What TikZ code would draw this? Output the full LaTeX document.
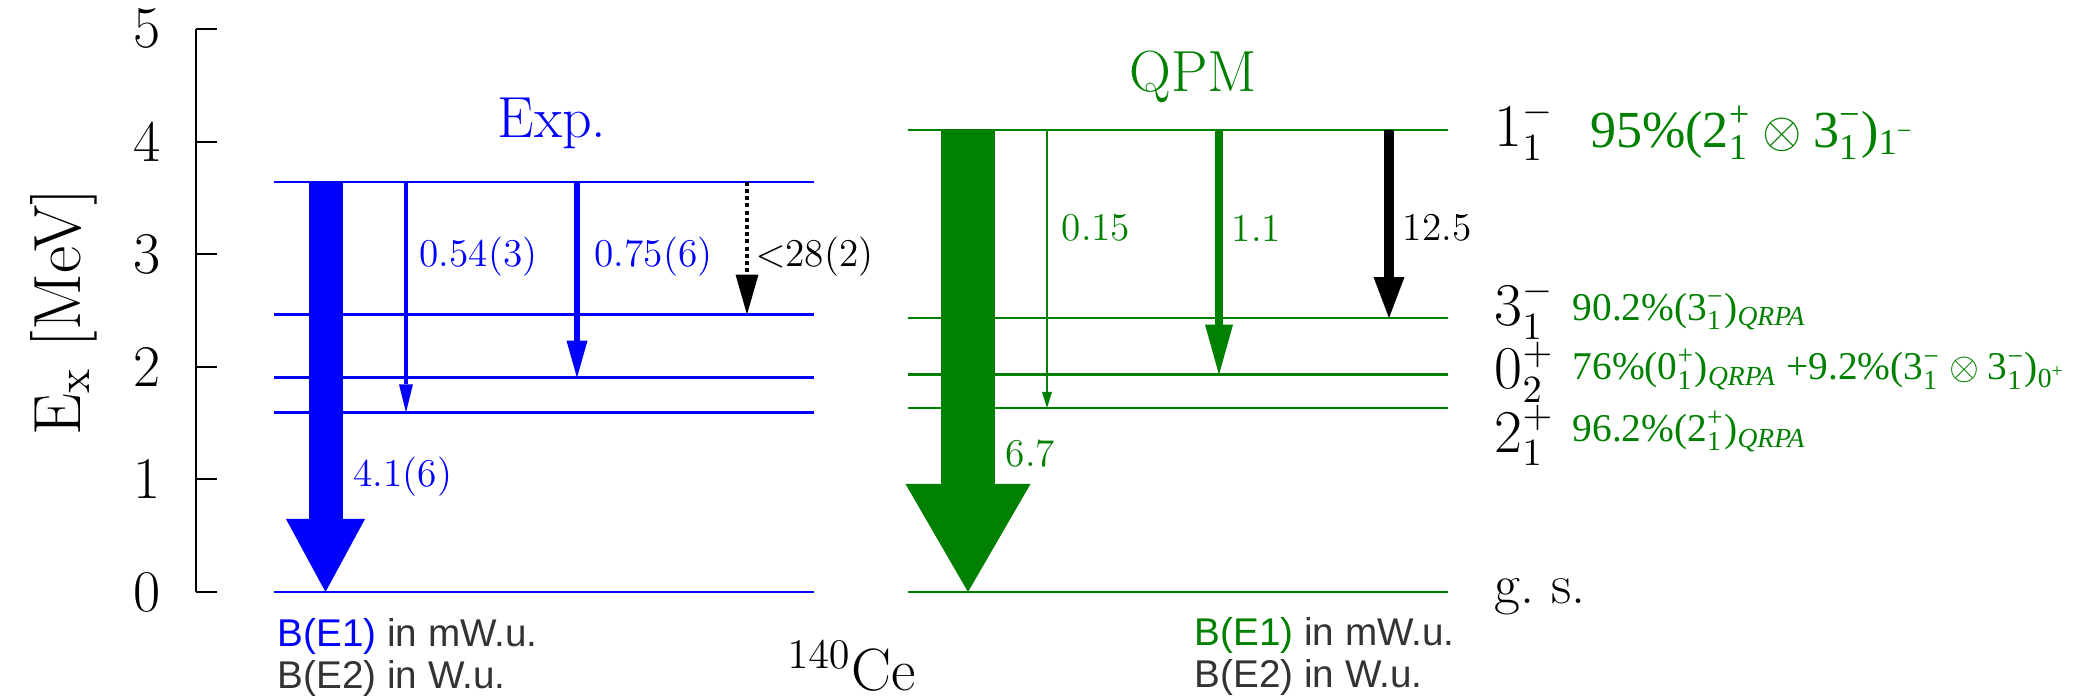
\documentclass[tikz,border=0pt]{standalone}
\usepackage{amsmath}
\usepackage{fontspec}
\usepackage{tikz}
\usetikzlibrary{arrows.meta}
\newfontfamily\qpmfont{Liberation Serif}
\newfontfamily\notefont{Liberation Sans}
\definecolor{expBlue}{HTML}{0000FF}
\definecolor{qpmGreen}{HTML}{008000}
\definecolor{noteGray}{HTML}{333333}

\begin{document}
\begin{tikzpicture}[x=1cm, y=1.126cm,
    axisline/.style={line width=0.6pt, black},
    explvl/.style={line width=0.7pt, expBlue},
    qpmlvl/.style={line width=0.7pt, qpmGreen},
    trans/.style n args={3}{line width=#1, -{Triangle[length=#2, width=#3, line width=0pt]}},
    val/.style={font=\fontsize{11.2}{13}\selectfont, inner sep=0pt, anchor=west},
    ttl/.style={font=\fontsize{16.5}{19}\selectfont, inner sep=0pt, anchor=base west},
    ticklbl/.style={font=\fontsize{16.8}{19}\selectfont, inner sep=0pt, anchor=east},
    spin/.style={font=\fontsize{16}{19}\selectfont, inner sep=0pt, anchor=base west},
    config/.style={font=\qpmfont\fontsize{11.2}{13}\selectfont, text=qpmGreen, inner sep=0pt, anchor=base west},
    note/.style={font=\notefont\fontsize{11}{13}\selectfont, text=noteGray, inner sep=0pt, anchor=base west}
  ]
  \useasboundingbox (0,-0.9503) rectangle (20.75,5.2575);

  % energy axis
  \draw[axisline] (1.96,0) -- (1.96,5);
  \foreach \e in {0,...,5} {
    \draw[axisline] (1.96,\e) -- (2.167,\e);
    \node[ticklbl] (tick\e) at (1.61,\e) {\e};
  }
  \node[rotate=90, font=\fontsize{19}{22}\selectfont, inner sep=0pt] (ylabel) at (0.64,2.487) {E$_\mathrm{x}$ [MeV]};

  % levels
  \foreach \e in {0,1.596,1.903,2.464,3.643}
    \draw[explvl] (2.74,\e) -- (8.14,\e);
  \foreach \e in {0,1.634,1.930,2.433,4.103}
    \draw[qpmlvl] (9.08,\e) -- (14.48,\e);

  \node[ttl, text=expBlue] (exptitle) at (4.97,4.032) {Exp.};
  \node[ttl, text=qpmGreen] (qpmtitle) at (11.29,4.446) {QPM};

  % transition end points
  \coordinate (expA) at (3.255,3.643); \coordinate (expAg) at (3.255,0);
  \coordinate (expB) at (4.06,3.643);  \coordinate (expBg) at (4.06,1.596);
  \coordinate (expC) at (5.77,3.643);  \coordinate (expCg) at (5.77,1.903);
  \coordinate (expD) at (7.47,3.643);  \coordinate (expDg) at (7.47,2.464);
  \coordinate (qpmA) at (9.68,4.103);  \coordinate (qpmAg) at (9.68,0);
  \coordinate (qpmB) at (10.47,4.103); \coordinate (qpmBg) at (10.47,1.634);
  \coordinate (qpmC) at (12.19,4.103); \coordinate (qpmCg) at (12.19,1.930);
  \coordinate (qpmD) at (13.89,4.103); \coordinate (qpmDg) at (13.89,2.433);

  % transitions
  \draw[trans={0.34cm}{0.73cm}{0.79cm}, expBlue] (expA) -- (expAg);
  \draw[trans={0.9pt}{0.28cm}{0.14cm}, expBlue] (expB) -- (expBg);
  \draw[trans={1.6pt}{0.37cm}{0.21cm}, expBlue] (expC) -- (expCg);
  \draw[trans={1.3pt}{0.40cm}{0.23cm}, black, dash pattern=on 1.15pt off 0.9pt] (expD) -- (expDg);
  \draw[trans={0.54cm}{1.08cm}{1.25cm}, qpmGreen] (qpmA) -- (qpmAg);
  \draw[trans={0.35pt}{0.16cm}{0.10cm}, qpmGreen] (qpmB) -- (qpmBg);
  \draw[trans={2.3pt}{0.50cm}{0.28cm}, qpmGreen] (qpmC) -- (qpmCg);
  \draw[trans={2.7pt}{0.41cm}{0.31cm}, black] (qpmD) -- (qpmDg);

  \node[val, text=expBlue] (bA) at (3.53,1.021) {4.1(6)};
  \node[val, text=expBlue] (bB) at (4.19,2.978) {0.54(3)};
  \node[val, text=expBlue] (bC) at (5.94,2.978) {0.75(6)};
  \node[val] (bD) at (7.55,2.975) {$<$28(2)};
  \node[val, text=qpmGreen] (qA) at (10.05,1.226) {6.7};
  \node[val, text=qpmGreen] (qB) at (10.61,3.233) {0.15};
  \node[val, text=qpmGreen] (qC) at (12.31,3.233) {1.1};
  \node[val] (qD) at (14.02,3.233) {12.5};

  % spins and structure
  \node[spin] (s1) at (14.94,3.956) {$1_1^-$};
  \node[spin] (s3) at (14.94,2.366) {$3_1^-$};
  \node[spin] (s0) at (14.94,1.803) {$0_2^+$};
  \node[spin] (s2) at (14.94,1.243) {$2_1^+$};
  \node[spin] (sg) at (14.94,-0.098) {g.\ s.};
  \node[config, font=\qpmfont\fontsize{14.8}{17}\selectfont] (c1) at (15.895,3.95)
    {95\%($\text{2}^{\text{+}}_{\text{1}}\otimes\text{3}^{\text{−}}_{\text{1}}$)$_{\text{1}^{\text{−}}}$};
  \node[config] (c3) at (15.72,2.415) {90.2\%($\text{3}^{\text{−}}_{\text{1}}$)$_{\text{\itshape QRPA}}$};
  \node[config] (c0) at (15.72,1.883)
    {76\%($\text{0}^{\text{+}}_{\text{1}}$)$_{\text{\itshape QRPA}}$ +9.2\%($\text{3}^{\text{−}}_{\text{1}}\otimes\text{3}^{\text{−}}_{\text{1}}$)$_{\text{0}^{\text{+}}}$};
  \node[config] (c2) at (15.72,1.338) {96.2\%($\text{2}^{\text{+}}_{\text{1}}$)$_{\text{\itshape QRPA}}$};

  % units
  \node[note] (nE1) at (2.77,-0.488) {\textcolor{expBlue}{B(E1)} in mW.u.};
  \node[note] (nE2) at (2.77,-0.861) {B(E2) in W.u.};
  \node[note] (mE1) at (11.94,-0.471) {\textcolor{qpmGreen}{B(E1)} in mW.u.};
  \node[note] (mE2) at (11.94,-0.844) {B(E2) in W.u.};
  \node[anchor=base west, inner sep=0pt, font=\fontsize{17}{20}\selectfont] (nucleus) at (7.87,-0.875) {$^{140}$Ce};
\end{tikzpicture}
\end{document}
